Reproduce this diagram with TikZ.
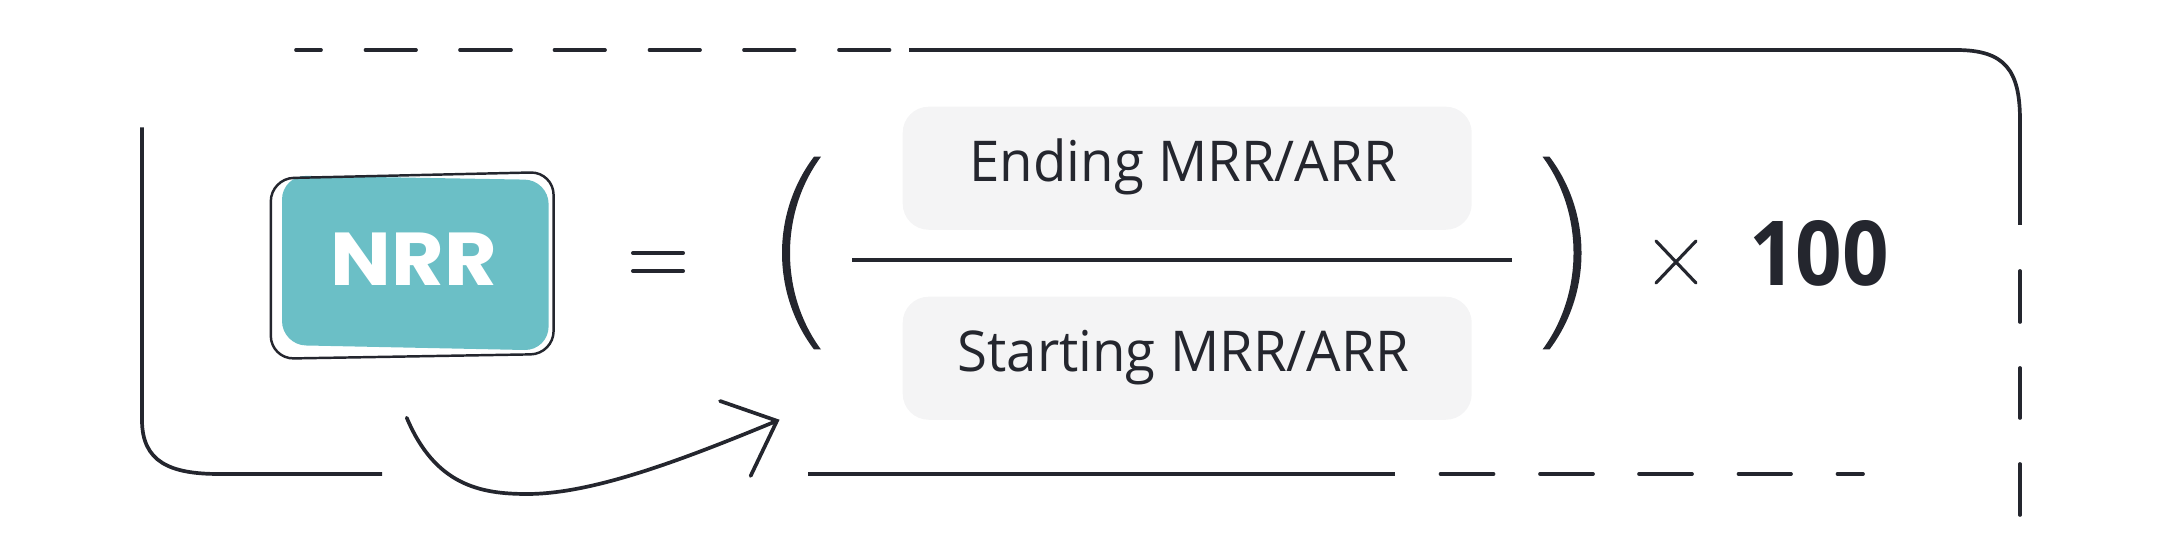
\documentclass[tikz,border=0pt]{standalone}
\usepackage{fontspec}
\setmainfont[FakeStretch=0.97]{Open Sans}
\newfontfamily\hundredfont[FakeStretch=0.91]{Open Sans}
\newfontfamily\nrrfont[FakeStretch=1.08]{Poppins}
\definecolor{inkdark}{HTML}{24262E}
\definecolor{tealfill}{HTML}{6BBFC6}
\definecolor{boxgray}{HTML}{F4F4F5}
\tikzset{
  frameline/.style={inkdark,line width=1.05pt},
  framedash/.style={frameline,line cap=round},
  termbox/.style={fill=boxgray,rounded corners=0.26cm,inner sep=0pt,anchor=north west,
    minimum width=5.687cm,text=inkdark,text height=0.75cm,text depth=0.48cm,
    font=\fontsize{16}{18}\selectfont},
  mathstroke/.style={inkdark,line width=1.15pt,line cap=round},
}
\begin{document}
\begin{tikzpicture}[x=0.01cm,y=-0.01cm]
\useasboundingbox (0,0) rectangle (2160,540);
%outer frame, top and right
\foreach \xa/\xb in {296/321,365.5/416,460/511,554.5/605,649.5/700,744/794.5,839/889.5}
  \draw[framedash] (\xa,50) -- (\xb,50);
\draw[frameline] (909,50) -- (1956,50) .. controls (2005,50) and (2020,70) .. (2020,120.5) -- (2020,225);
\foreach \ya/\yb in {271/322,368/418,464/515}
  \draw[framedash] (2020,\ya) -- (2020,\yb);
%outer frame, left and bottom
\draw[frameline] (142,127.5) -- (142,420) .. controls (142,462) and (170,474) .. (219,474) -- (382,474);
\draw[frameline] (808,474) -- (1394.5,474);
\foreach \xa/\xb in {1440.5/1493.5,1540/1593,1639/1692,1738.5/1791,1837.5/1863}
  \draw[framedash] (\xa,474) -- (\xb,474);
%NRR box
\fill[tealfill,rounded corners=0.24cm] (282,175.5) -- (548.6,180) -- (548.6,350.5) -- (282,345) -- cycle;
\draw[inkdark,line width=0.7pt,rounded corners=0.23cm] (270.8,178.4) -- (553.6,172) -- (553.6,354) -- (270.8,358.8) -- cycle;
\node[text=white,inner sep=0pt,anchor=base,font=\nrrfont\bfseries\fontsize{21.3}{24}\selectfont] (nrr) at (414,285.8) {NRR};
%equals
\draw[mathstroke] (633,253) -- (683,253);
\draw[mathstroke] (633,271) -- (683,271);
%brackets
\fill[inkdark] (814,156.7) .. controls (793,184.4) and (782,218.4) .. (782,253) .. controls (782,287.6) and (793,321.8) .. (814,349.5)
  -- (821,349.5) .. controls (800.5,321.8) and (790,287.6) .. (790,253) .. controls (790,218.4) and (800.5,184.4) .. (821,156.7) -- cycle;
\fill[inkdark] (1549.5,156.7) .. controls (1570.5,184.4) and (1581.5,218.4) .. (1581.5,253) .. controls (1581.5,287.6) and (1570.5,321.8) .. (1549.5,349.5)
  -- (1542.5,349.5) .. controls (1563,321.8) and (1573.5,287.6) .. (1573.5,253) .. controls (1573.5,218.4) and (1563,184.4) .. (1542.5,156.7) -- cycle;
%fraction
\node[termbox] (ending) at (902,106) {\hspace*{-0.08cm}Ending MRR/ARR};
\node[termbox] (starting) at (902,296) {\hspace*{-0.08cm}Starting MRR/ARR};
\draw[inkdark,line width=1.15pt] (852,260) -- (1512,260);
%times 100
\draw[mathstroke,line width=0.9pt] (1656,241) -- (1696,283);
\draw[mathstroke,line width=0.9pt] (1696,241) -- (1656,283);
\node[text=inkdark,inner sep=0pt,anchor=base,font=\hundredfont\bfseries\fontsize{25.5}{28}\selectfont] (hundred) at (1819,286) {100};
%arrow
\coordinate (arrowfrom) at (406.7,417.7);
\coordinate (arrowtip) at (777,420.8);
\draw[frameline,line cap=round] (arrowfrom) .. controls (435,485) and (480,494) .. (527,494) .. controls (592,494) and (680,461) .. (arrowtip);
\draw[frameline,line cap=round,line join=miter] (720,401) -- (arrowtip) -- (750.6,476);
\end{tikzpicture}
\end{document}
